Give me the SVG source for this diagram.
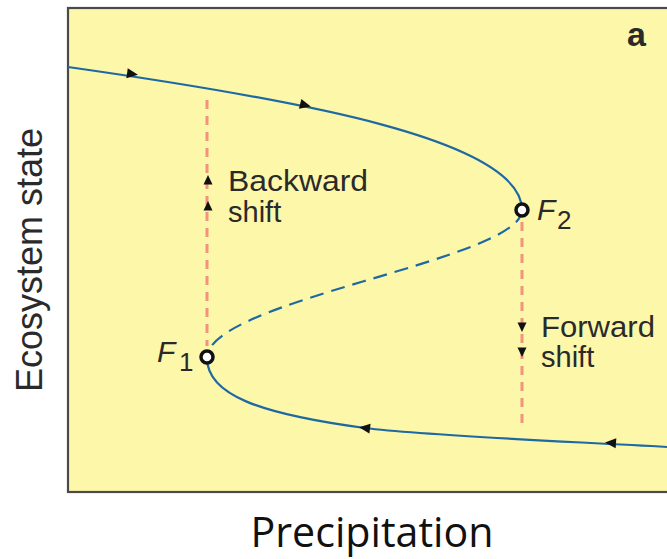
<svg xmlns="http://www.w3.org/2000/svg" width="667" height="559" viewBox="0 0 667 559">
<defs>
<style>
.curve{fill:none;stroke:#1f69a3;stroke-width:2.2}
.unstable{stroke-dasharray:14 8}
.shift{fill:none;stroke:#f3927f;stroke-width:3;stroke-dasharray:9 7}
.lbl{font-family:"Liberation Sans",Arial,sans-serif;fill:#2a2a2a}
.pt{fill:#fff;stroke:#111;stroke-width:3.5}
</style>
<path id="tri" d="M6,0 L-5,-5 L-5,5 Z" fill="#111"/>
<path id="stri" d="M0,-5 L4.5,4.5 L-4.5,4.5 Z" fill="#111"/>
</defs>
<rect x="0" y="0" width="667" height="559" fill="#fff"/>
<rect id="plot" x="68" y="8" width="610" height="484" fill="#fdf7aa" stroke="#4a4a4a" stroke-width="2.2"/>
<text class="lbl" x="627" y="46" font-size="34" font-weight="bold" fill="#111">a</text>
<g id="connectors">
<path class="shift" d="M207,100 V346"/>
<path class="shift" d="M522,222 V426"/>
<path id="upper" class="curve" d="M68,67 C300,100 522,140 522,210"/>
<path id="middle" class="curve unstable" d="M522,210 C522,260 207,300 207,358"/>
<path id="lower" class="curve" d="M207,358 C207,395 260,414 365,428 C430,436 560,441 667,447"/>
<use href="#tri" transform="translate(132,74) rotate(8)"/>
<use href="#tri" transform="translate(305,105) rotate(14)"/>
<use href="#tri" transform="translate(365,428) rotate(187)"/>
<use href="#tri" transform="translate(611,443) rotate(184)"/>
<use href="#stri" transform="translate(208,180)"/>
<use href="#stri" transform="translate(208,206)"/>
<use href="#stri" transform="translate(522,327) rotate(180)"/>
<use href="#stri" transform="translate(522,352) rotate(180)"/>
</g>
<g id="F1">
<circle class="pt" cx="207" cy="357" r="6"/>
<text class="lbl" x="157" y="362" font-size="30" font-style="italic">F</text>
<text class="lbl" x="179" y="371" font-size="26">1</text>
</g>
<g id="F2">
<circle class="pt" cx="522" cy="210" r="6"/>
<text class="lbl" x="537" y="220" font-size="30" font-style="italic">F</text>
<text class="lbl" x="557" y="229" font-size="26">2</text>
</g>
<g id="backward">
<text class="lbl" x="228" y="191" font-size="29" textLength="140" lengthAdjust="spacingAndGlyphs">Backward</text>
<text class="lbl" x="228" y="222" font-size="29">shift</text>
</g>
<g id="forward">
<text class="lbl" x="541" y="337" font-size="29" textLength="114" lengthAdjust="spacingAndGlyphs">Forward</text>
<text class="lbl" x="541" y="367" font-size="29">shift</text>
</g>
<text class="lbl" transform="translate(42,260) rotate(-90)" text-anchor="middle" font-size="36">Ecosystem state</text>
<text x="372" y="547" text-anchor="middle" font-family="'Open Sans','Noto Sans',sans-serif" font-size="42" textLength="243" lengthAdjust="spacingAndGlyphs" fill="#111">Precipitation</text>
</svg>
